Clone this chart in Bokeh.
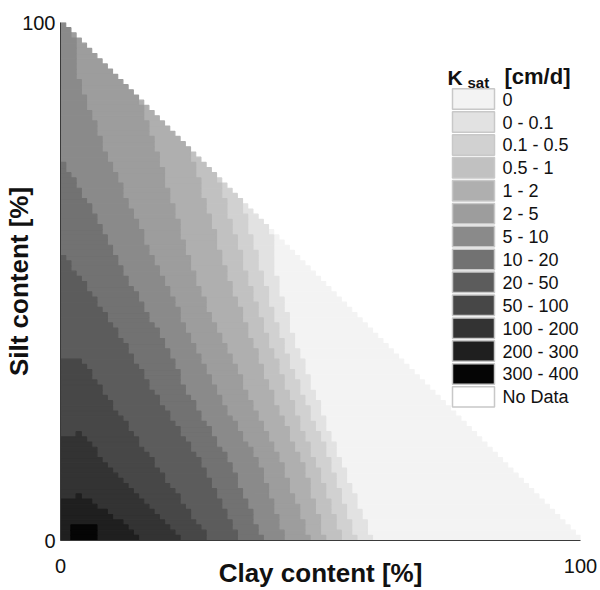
import numpy as np
from bokeh.plotting import figure
from bokeh.models import Range1d, FixedTicker, Label
from bokeh.core.properties import value
from bokeh.embed import file_html
from bokeh.resources import INLINE

# ---------------- data ----------------
CLASS_LABELS = ["0", "0 - 0.1", "0.1 - 0.5", "0.5 - 1", "1 - 2", "2 - 5", "5 - 10",
                "10 - 20", "20 - 50", "50 - 100", "100 - 200", "200 - 300", "300 - 400"]
NODATA_LABEL = "No Data"
CLASS_COLORS = ["#f3f3f3", "#e2e2e2", "#d1d1d1", "#c1c1c1", "#afafaf", "#9d9d9d", "#8a8a8a",
                "#727272", "#5c5c5c", "#474747", "#333333", "#1f1f1f", "#050505"]
NODATA_COLOR = "#ffffff"

# class boundaries: silt content [%] of the edge of the darker side, read at clay content [%]
B1_CLAY = [0, 40.5, 41.3, 44.5, 49, 54, 59.3, 60]
B1_SILT = [120, 59.5, 52, 40, 28, 15, 2, 0]
B2_CLAY = [0, 35, 38.5, 42, 46.5, 52, 56.1, 57]
B2_SILT = [120, 65, 52, 40, 28, 15, 2, 0]
B3_CLAY = [0, 30.3, 31.7, 35.6, 39.4, 44, 49, 53.5, 54.5]
B3_SILT = [120, 69.7, 65, 52, 40, 28, 15, 2, 0]
B4_CLAY = [0, 25, 27.9, 31.7, 36.2, 40.7, 46.5, 50.3, 51]
B4_SILT = [120, 75, 65, 52, 40, 28, 15, 2, 0]
B5_CLAY = [0, 15.4, 17.6, 21.5, 25.3, 30.4, 36.2, 42.5, 47.1, 48]
B5_SILT = [120, 84.6, 78, 65, 52, 40, 28, 15, 2, 0]
B6_CLAY = [0, 2.5, 3.2, 7.4, 13.1, 18.9, 24.7, 30.4, 38, 42.6, 43.5]
B6_SILT = [120, 97.5, 90, 78, 65, 52, 40, 28, 15, 2, 0]
B7_CLAY = [0, 5.4, 11.9, 18.9, 24.7, 32.5, 38.1, 39]
B7_SILT = [73.4, 65, 52, 40, 28, 15, 2, 0]
B8_CLAY = [0, 2.9, 11.2, 18.3, 27, 33.7, 34.5]
B8_SILT = [55.5, 52, 40, 28, 15, 2, 0]
B9_CLAY = [0, 3.8, 8.7, 18, 27.2, 28.5]
B9_SILT = [34.5, 35.5, 28, 15, 2, 0]
B10_CLAY = [0, 3.8, 8.7, 21.5, 23]
B10_SILT = [19.5, 20.8, 15, 2, 0]
B11_CLAY = [0, 3.8, 13.8, 15.5]
B11_SILT = [7.3, 8.9, 2, 0]
B12_CLAY = [1.9, 2.1, 6.9, 7.1]
B12_SILT = [0, 3.5, 3.5, 0]

BOUNDARIES = [(B1_CLAY, B1_SILT), (B2_CLAY, B2_SILT), (B3_CLAY, B3_SILT), (B4_CLAY, B4_SILT),
              (B5_CLAY, B5_SILT), (B6_CLAY, B6_SILT), (B7_CLAY, B7_SILT), (B8_CLAY, B8_SILT),
              (B9_CLAY, B9_SILT), (B10_CLAY, B10_SILT), (B11_CLAY, B11_SILT), (B12_CLAY, B12_SILT)]

# ---------------- raster of 1 % cells ----------------
N = 100
runs = {k: dict(left=[], right=[], bottom=[], top=[]) for k in range(len(CLASS_LABELS))}
for j in range(N):
    s = j + 0.5
    row = []
    for i in range(N - j):
        c = i + 0.5
        k = sum(1 for bc, bs in BOUNDARIES if s < np.interp(c, bc, bs))
        row.append(k)
    start = 0
    for i in range(1, len(row) + 1):
        if i == len(row) or row[i] != row[start]:
            d = runs[row[start]]
            d["left"].append(start); d["right"].append(i)
            d["bottom"].append(j); d["top"].append(j + 1)
            start = i

# ---------------- figure ----------------
W, H = 600, 590
FL, FR, FT, FB = 60, 580, 22, 541
FONT = "Liberation Sans"
p = figure(width=W, height=H, output_backend="svg", toolbar_location=None,
           x_range=Range1d(0, 100), y_range=Range1d(0, 100),
           min_border_left=FL, min_border_right=W - FR, min_border_top=FT, min_border_bottom=H - FB)
p.outline_line_color = None
p.grid.visible = False
p.background_fill_color = "white"

def dx(px):
    return (px - FL) / (FR - FL) * 100.0

def dy(py):
    return (FB - py) / (FB - FT) * 100.0

for k, color in enumerate(CLASS_COLORS):
    d = runs[k]
    if d["left"]:
        p.quad(left=d["left"], right=d["right"], bottom=d["bottom"], top=d["top"],
               fill_color=color, line_color=color, line_width=1.2)

for ax in (p.xaxis[0], p.yaxis[0]):
    ax.ticker = FixedTicker(ticks=[0, 100])
    ax.minor_tick_line_color = None
    ax.major_tick_out = 0
    ax.major_tick_in = 0
    ax.axis_line_color = "#3a3a3a"
    ax.axis_line_width = 1
    ax.major_label_text_font = FONT
    ax.major_label_text_font_size = "20px"
    ax.major_label_text_color = "#111111"
    ax.axis_label_text_font = FONT
    ax.axis_label_text_font_size = "26px"
    ax.axis_label_text_font_style = "bold"
    ax.axis_label_text_color = "#111111"
p.xaxis.axis_label = "Clay content [%]"
p.yaxis.axis_label = "Silt content [%]"
p.yaxis.major_label_standoff = 5
p.xaxis.major_label_standoff = 18
p.xaxis.axis_label_standoff = -18
p.yaxis.axis_label_standoff = -15

# legend title K_sat [cm/d]
p.add_layout(Label(x=dx(447), y=dy(77), text="K", text_align="left", text_baseline="alphabetic",
                   text_font=FONT, text_font_size="21px", text_font_style="bold", text_color="#111111"))
p.add_layout(Label(x=dx(467), y=dy(82), text="sat", text_align="left", text_baseline="alphabetic",
                   text_font=FONT, text_font_size="15px", text_font_style="bold", text_color="#111111"))
p.add_layout(Label(x=dx(504), y=dy(76), text="[cm/d]", text_align="left", text_baseline="alphabetic",
                   text_font=FONT, text_font_size="22px", text_font_style="bold", text_color="#111111"))

# legend swatches and labels (layout in pixels, converted to the plot's units)
LEG_X0, LEG_X1 = 452, 494
LEG_TOP0, LEG_PITCH, LEG_H = 88.5, 22.95, 20.5
LEG_TEXT_X = 502
labels = CLASS_LABELS + [NODATA_LABEL]
colors = CLASS_COLORS + [NODATA_COLOR]
tops = [LEG_TOP0 + r * LEG_PITCH for r in range(len(labels))]
p.quad(left=[dx(LEG_X0)] * len(labels), right=[dx(LEG_X1)] * len(labels),
       top=[dy(t) for t in tops], bottom=[dy(t + LEG_H) for t in tops],
       fill_color=colors, line_color="#c8c8c8", line_width=1.5)
p.text(x=[dx(LEG_TEXT_X)] * len(labels), y=[dy(t + LEG_H / 2 + 0.5) for t in tops], text=labels,
       text_font=value(FONT), text_font_size="18px", text_baseline="middle", text_align="left",
       text_color="#111111")

open("out.html", "w").write(file_html(p, INLINE))
